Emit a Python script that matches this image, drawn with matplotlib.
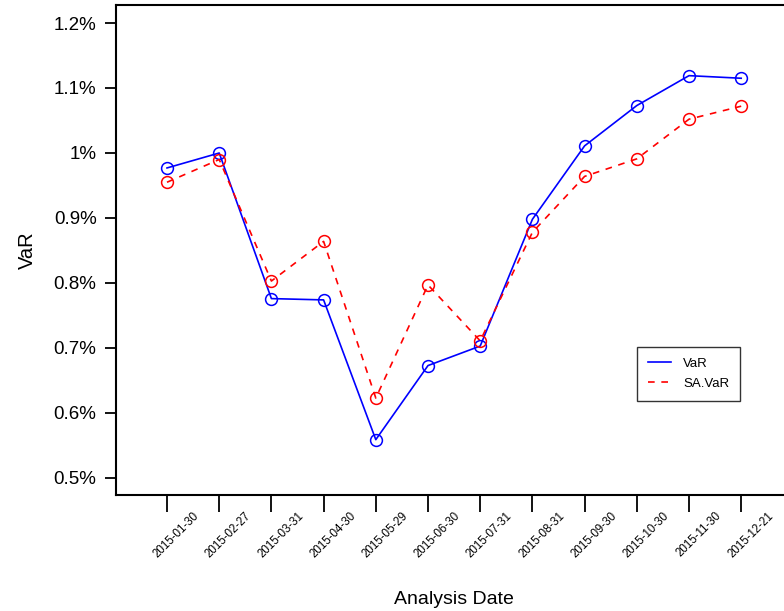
import matplotlib
matplotlib.use('Agg')
import matplotlib.pyplot as plt
import matplotlib.transforms as mtransforms
from matplotlib.ticker import FuncFormatter

plt.rcParams['font.family'] = ['Liberation Sans', 'DejaVu Sans']

dates = ['2015-01-30', '2015-02-27', '2015-03-31', '2015-04-30', '2015-05-29', '2015-06-30',
         '2015-07-31', '2015-08-31', '2015-09-30', '2015-10-30', '2015-11-30', '2015-12-21']
var = [0.977, 1.000, 0.776, 0.774, 0.559, 0.673, 0.703, 0.898, 1.011, 1.073, 1.119, 1.115]
sa_var = [0.955, 0.990, 0.803, 0.864, 0.623, 0.797, 0.711, 0.878, 0.964, 0.991, 1.052, 1.072]
yticks = [0.5, 0.6, 0.7, 0.8, 0.9, 1.0, 1.1, 1.2]

fig = plt.figure(figsize=(7.84, 6.11), dpi=100)
ax = fig.add_axes([116/784, 1 - 495/611, 1 - 116/784, 490/611])

x = list(range(1, len(dates) + 1))
ax.plot(x, var, color='blue', lw=1.2, marker='o', mfc='none', ms=8.5, mew=1.1, label='VaR')
ax.plot(x, sa_var, color='red', lw=1.2, ls=(0, (4, 4)), marker='o', mfc='none', ms=8.5, mew=1.1, label='SA.VaR')

ax.set_xlim(1 - 51/52.2, 1 + (784 - 167)/52.2)
ax.set_ylim(1.2 - (495 - 23)/650, 1.2 + 18/650)
ax.set_yticks(yticks)
ax.yaxis.set_major_formatter(FuncFormatter(lambda v, p: ('%g' % round(v, 2)) + '%'))
ax.set_xticks(x)
ax.set_xticklabels([])
# R puts the rotated labels a bit right of the tick
trans = ax.get_xaxis_transform() + mtransforms.ScaledTranslation(26/100, -15/100, fig.dpi_scale_trans)
for xi, d in zip(x, dates):
    ax.text(xi, 0, d, transform=trans, rotation=45, ha='right', va='top',
            rotation_mode='anchor', fontsize=8.3)
ax.tick_params(axis='y', labelsize=13.5, length=8, width=1.3, pad=6)
ax.tick_params(axis='x', length=12, width=1.3)
for s in ['left', 'bottom', 'top']:
    ax.spines[s].set_linewidth(1.5)
ax.spines['right'].set_visible(False)

ax.set_ylabel('VaR', fontsize=14.5)
ax.set_xlabel('Analysis Date', fontsize=14)
ax.yaxis.set_label_coords((37 - 116)/668, 0.5)
ax.xaxis.set_label_coords((454 - 116)/668, (495 - 591)/490)

leg = ax.legend(loc='upper left', bbox_to_anchor=((637 - 116)/668, 1 - (347 - 5)/490),
                borderaxespad=0, fontsize=9.5, frameon=True, fancybox=False, edgecolor='black',
                handlelength=1.8, handletextpad=0.9, borderpad=0.8, labelspacing=0.6)
leg.get_frame().set_linewidth(1.0)
for h in leg.legend_handles:
    h.set_marker('')

fig.savefig('out.png', dpi=100)
